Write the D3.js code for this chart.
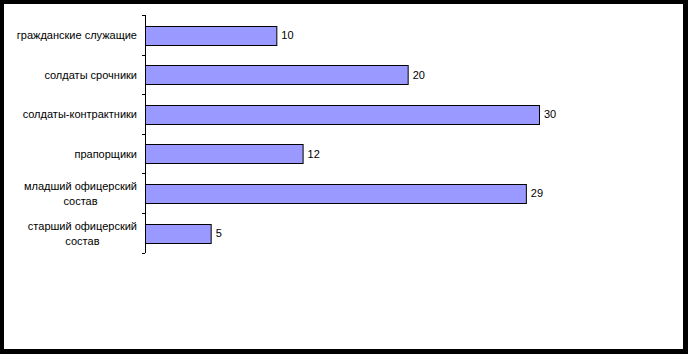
<!DOCTYPE html>
<head>
<meta charset="UTF-8">
<script src="https://d3js.org/d3.v7.min.js"></script>
<style>
  body { margin: 0; background: #fff; }
  text { font-family: "Liberation Sans", Arial, sans-serif; font-size: 11px; fill: #000; }
</style>
</head>
<body>
<div id="chart"></div>
<script>
  // data, top to bottom
  var categories = [
    ["гражданские служащие"],
    ["солдаты срочники"],
    ["солдаты-контрактники"],
    ["прапорщики"],
    ["младший офицерский", "состав"],
    ["старший офицерский", "состав"]
  ];
  var values = [10, 20, 30, 12, 29, 5];

  var width = 688, height = 354;
  var plotLeft = 145, plotRight = 539, plotTop = 15, plotBottom = 252.5;

  var svg = d3.select("#chart").append("svg")
      .attr("width", width)
      .attr("height", height);

  // frame
  svg.append("rect").attr("width", width).attr("height", height).attr("fill", "#000");
  svg.append("rect").attr("x", 4).attr("y", 4)
      .attr("width", width - 9).attr("height", height - 9).attr("fill", "#fff");

  var x = d3.scaleLinear().domain([0, 30]).range([plotLeft, plotRight]);
  var y = d3.scaleBand().domain(d3.range(values.length))
      .range([plotTop, plotBottom]).paddingInner(0.49).paddingOuter(0.245);

  var band = (plotBottom - plotTop) / values.length;

  // bars
  svg.selectAll("rect.bar").data(values).enter().append("rect")
      .attr("class", "bar")
      .attr("x", x(0) + 0.5)
      .attr("y", function(d, i) { return Math.round(y(i)) + 1.5; })
      .attr("width", function(d) { return x(d) - x(0); })
      .attr("height", Math.round(y.bandwidth()) - 1)
      .attr("fill", "#9999ff")
      .attr("stroke", "#000")
      .attr("stroke-width", 1);

  // value labels
  svg.selectAll("text.val").data(values).enter().append("text")
      .attr("class", "val")
      .attr("x", function(d) { return x(d) + 5; })
      .attr("y", function(d, i) { return y(i) + y.bandwidth() / 2 + 0.5; })
      .attr("dy", "0.35em")
      .text(function(d) { return d; });

  // axis line and ticks
  svg.append("line")
      .attr("x1", plotLeft + 0.5).attr("x2", plotLeft + 0.5)
      .attr("y1", plotTop).attr("y2", plotBottom + 0.5)
      .attr("stroke", "#000");
  svg.selectAll("line.tick").data(d3.range(values.length + 1)).enter().append("line")
      .attr("class", "tick")
      .attr("x1", plotLeft - 3).attr("x2", plotLeft)
      .attr("y1", function(i) { return Math.round(plotTop + i * band) + 0.5; })
      .attr("y2", function(i) { return Math.round(plotTop + i * band) + 0.5; })
      .attr("stroke", "#000");

  // category labels, multi-line ones centred on their widest line
  var labelRight = 137, lineH = 15;
  categories.forEach(function(lines, i) {
    var cy = y(i) + y.bandwidth() / 2 + 0.5;
    var g = svg.append("text").attr("text-anchor", "middle");
    var tspans = lines.map(function(l, k) {
      return g.append("tspan")
          .attr("y", cy + (k - (lines.length - 1) / 2) * lineH)
          .attr("dy", "0.35em")
          .text(l);
    });
    var w = d3.max(tspans, function(t) { return t.node().getComputedTextLength(); });
    tspans.forEach(function(t) { t.attr("x", labelRight - w / 2); });
  });
</script>
</body>
